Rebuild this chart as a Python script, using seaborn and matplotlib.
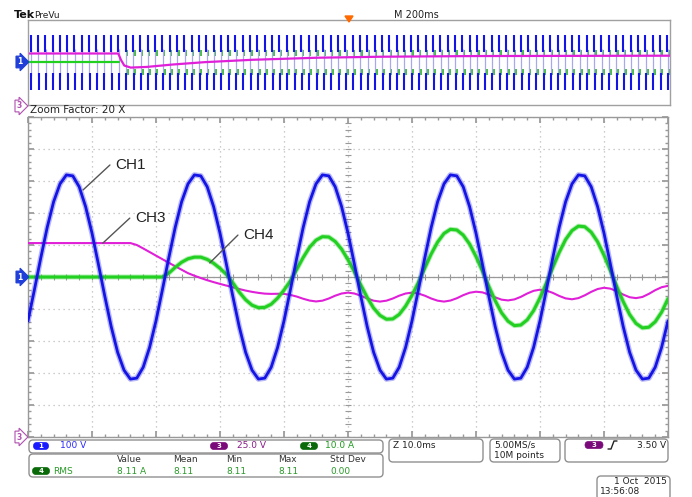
import numpy as np
import pandas as pd
import seaborn as sns
import matplotlib.pyplot as plt
from matplotlib.patches import FancyBboxPatch, Polygon
from matplotlib.ticker import MultipleLocator

# zoomed window (10 ms/div), values read every 1 ms
t_ms = list(range(0, 101))
ch1_volts = [-137, -40, 60, 155, 235, 291, 319, 316, 282, 220,
             137, 40, -60, -155, -235, -291, -319, -316, -282, -220,
             -137, -40, 60, 155, 235, 291, 319, 316, 282, 220,
             137, 40, -60, -155, -235, -291, -319, -316, -282, -220,
             -137, -40, 60, 155, 235, 291, 319, 316, 282, 220,
             137, 40, -60, -155, -235, -291, -319, -316, -282, -220,
             -137, -40, 60, 155, 235, 291, 319, 316, 282, 220,
             137, 40, -60, -155, -235, -291, -319, -316, -282, -220,
             -137, -40, 60, 155, 235, 291, 319, 316, 282, 220,
             137, 40, -60, -155, -235, -291, -319, -316, -282, -220,
             -137]
ch3_volts = [151.5, 151.5, 151.5, 151.5, 151.5, 151.5, 151.5, 151.5, 151.5, 151.5,
             151.5, 151.5, 151.5, 151.5, 151.5, 151.5, 151.5, 150.0, 147.3, 144.5,
             141.7, 138.9, 136.1, 133.4, 130.7, 128.0, 126.0, 124.2, 122.5, 121.0,
             119.6, 118.3, 117.0, 115.6, 114.4, 113.4, 112.6, 112.0, 111.8, 111.9,
             111.8, 111.0, 109.7, 108.0, 106.6, 105.9, 106.5, 108.2, 110.4, 112.1,
             112.8, 112.1, 110.4, 108.2, 106.5, 105.8, 106.5, 108.2, 110.4, 112.1,
             112.8, 112.1, 110.4, 108.2, 106.5, 105.8, 106.6, 108.4, 110.8, 112.7,
             113.5, 113.0, 111.3, 109.1, 107.3, 106.7, 107.5, 109.5, 112.1, 114.2,
             115.1, 114.4, 112.6, 110.2, 108.3, 107.6, 108.5, 110.7, 113.4, 115.6,
             116.6, 115.9, 113.9, 111.3, 109.2, 108.5, 109.4, 111.8, 114.7, 117.0,
             118.1]
ch4_amps = [0, 0, 0, 0, 0, 0, 0, 0, 0, 0,
            0, 0, 0, 0, 0, 0, 0, 0, 0, 0,
            0, 0, 1.2, 3.0, 4.6, 5.7, 6.2, 6.2, 5.5, 4.3,
            2.7, 0.8, -1.8, -4.7, -7.1, -8.8, -9.6, -9.5, -8.5, -6.6,
            -4.1, -1.2, 2.4, 6.1, 9.3, 11.5, 12.6, 12.5, 11.1, 8.7,
            5.4, 1.6, -2.5, -6.4, -9.7, -12.0, -13.2, -13.1, -11.7, -9.1,
            -5.7, -1.7, 2.8, 7.2, 10.9, 13.6, 14.9, 14.7, 13.1, 10.3,
            6.4, 1.9, -2.9, -7.4, -11.2, -13.8, -15.2, -15.0, -13.4, -10.5,
            -6.5, -1.9, 3.0, 7.7, 11.7, 14.5, 15.9, 15.7, 14.0, 11.0,
            6.8, 2.0, -3.0, -7.7, -11.7, -14.5, -15.9, -15.7, -14.0, -11.0,
            -6.8]

# PreVu strip (200 ms/div)
prev_ch3_t = [0, 281, 290, 300, 320, 370, 450, 550, 700, 900, 1100, 1400, 2000]
prev_ch3_volts = [151.5, 151.5, 132, 116, 110, 112, 119, 126, 133, 139, 142, 144, 145]
prev_ch1_peak = 322
prev_ch4_peak = 15
prev_step_t = 285

# vertical settings per channel
ch1_scale, ch3_scale, ch4_scale = 100, 25, 10
ch3_offset = -5

meas_headers = ['Value', 'Mean', 'Min', 'Max', 'Std Dev']
meas_values = ['8.11 A', '8.11', '8.11', '8.11', '0.00']

BLUE, MAG, GREEN = '#1414e6', '#e020d8', '#22d022'

sns.set_theme(style='white')
plt.rcParams['font.family'] = ['DejaVu Sans']

W, H = 692, 497
fig = plt.figure(figsize=(W / 100, H / 100), dpi=100)


def box(x0, y0, x1, y1):
    return [x0 / W, 1 - y1 / H, (x1 - x0) / W, (y1 - y0) / H]


df = pd.DataFrame({'t': t_ms,
                   'ch1': np.array(ch1_volts) / ch1_scale,
                   'ch3': np.array(ch3_volts) / ch3_scale + ch3_offset,
                   'ch4': np.array(ch4_amps) / ch4_scale})

# ---- main zoom window
ax = fig.add_axes(box(28, 117, 668, 437))
ax.set_xlim(0, 100)
ax.set_ylim(-5, 5)
ax.xaxis.set_major_locator(MultipleLocator(10))
ax.yaxis.set_major_locator(MultipleLocator(1))
ax.xaxis.set_minor_locator(MultipleLocator(2))
ax.yaxis.set_minor_locator(MultipleLocator(0.2))
ax.tick_params(which='both', direction='in', top=True, right=True, bottom=True, left=True,
               labelbottom=False, labelleft=False, color='#999999')
ax.tick_params(which='major', length=4)
ax.tick_params(which='minor', length=2.5)
ax.grid(True, which='major', color='#bcbcbc', ls=(0, (1, 3)), lw=0.9)
for s in ax.spines.values():
    s.set_color('#999999')
    s.set_linewidth(1)
ax.axhline(0, color='#999999', lw=0.9, zorder=1)
ax.plot(np.arange(0, 100.1, 2), np.zeros(51), ls='none', marker='|', ms=4, color='#999999', mew=0.8)
ax.plot(np.full(51, 50), np.arange(-5, 5.01, 0.2), ls='none', marker='_', ms=4, color='#999999', mew=0.8)

sns.lineplot(data=df, x='t', y='ch3', ax=ax, color=MAG, lw=1.5, zorder=3)
sns.lineplot(data=df, x='t', y='ch4', ax=ax, color=GREEN, lw=3.6, alpha=0.35, zorder=4)
sns.lineplot(data=df, x='t', y='ch4', ax=ax, color=GREEN, lw=2.2, zorder=4)
sns.lineplot(data=df, x='t', y='ch1', ax=ax, color=BLUE, lw=4.0, alpha=0.3, zorder=5)
sns.lineplot(data=df, x='t', y='ch1', ax=ax, color=BLUE, lw=2.0, zorder=5)
ax.set_xlabel('')
ax.set_ylabel('')

# callouts
for (x0, y0, x1, y1, lab) in [(8.6, 2.72, 12.8, 3.5, 'CH1'),
                              (11.7, 1.06, 15.9, 1.84, 'CH3'),
                              (28.4, 0.44, 32.8, 1.31, 'CH4')]:
    ax.plot([x0, x1], [y0, y1], color='#555555', lw=1, zorder=6)
    ax.text(x1 + 0.8, y1, lab, fontsize=11, family='Liberation Sans', va='center', ha='left', color='#222222')

# ---- PreVu strip
axp = fig.add_axes(box(28, 20, 670, 105))
axp.set_xlim(0, 2000)
axp.set_ylim(-5, 5)
axp.set_xticks([])
axp.set_yticks([])
for s in axp.spines.values():
    s.set_color('#a0a0a0')
    s.set_linewidth(1)
stroke_t = np.arange(8, 2000, 22.8)
late = stroke_t[stroke_t > prev_step_t]
g = prev_ch4_peak / ch4_scale
axp.vlines(late + 5, 0.5 * g, g, color='#28b028', lw=1.2)
axp.vlines(late + 7, -g, -0.5 * g, color='#28b028', lw=1.2)
b = prev_ch1_peak / ch1_scale
axp.vlines(stroke_t + 1, -0.5 * b, 0.5 * b, color='#a8a8ee', lw=0.9)
axp.vlines(stroke_t, 0.4 * b, b, color=BLUE, lw=1.5)
axp.vlines(stroke_t + 2, -b, -0.4 * b, color=BLUE, lw=1.5)
axp.plot([0, prev_step_t], [0, 0], color=GREEN, lw=1.6)
pv = pd.DataFrame({'t': prev_ch3_t, 'v': np.array(prev_ch3_volts) / ch3_scale + ch3_offset})
sns.lineplot(data=pv, x='t', y='v', ax=axp, color=MAG, lw=1.6)
axp.set_xlabel('')
axp.set_ylabel('')

# ---- overlay in pixel coordinates for the readouts
ov = fig.add_axes([0, 0, 1, 1], zorder=10)
ov.set_xlim(0, W)
ov.set_ylim(H, 0)
ov.axis('off')
ov.patch.set_alpha(0)

ov.text(14, 15, 'Tek', fontsize=8, weight='bold', va='center', color='#111111')
ov.text(34, 15, 'PreVu', fontsize=6.5, va='center', color='#222222')
ov.text(394, 15, 'M 200ms', fontsize=7, va='center', color='#222222')
ov.text(30, 110, 'Zoom Factor: 20 X', fontsize=7.5, va='center', color='#222222')
ov.add_patch(Polygon([[345, 16], [353, 16], [349, 22]], closed=True, color='#ff6a00'))


def marker(x, y, num, fc, ec=None, tc='white'):
    ov.text(x, y, num, fontsize=5.5, ha='center', va='center', color=tc, weight='bold',
            bbox=dict(boxstyle='rarrow,pad=0.18', fc=fc, ec=ec or fc, lw=0.8))


def pill(xc, yc, num, fc, w=15, h=7):
    ov.add_patch(FancyBboxPatch((xc - w / 2, yc - h / 2), w, h,
                                boxstyle='round,pad=0,rounding_size=3.5', fc=fc, ec=fc, lw=0.5))
    ov.text(xc, yc + 0.3, num, fontsize=5, ha='center', va='center', color='white', weight='bold')


marker(20, 62, '1', '#1f3fd8')
marker(20, 277, '1', '#1f3fd8')
marker(19, 106, '3', 'white', ec='#b050b0', tc='#b050b0')
marker(19, 437, '3', 'white', ec='#b050b0', tc='#b050b0')


def rbox(x0, y0, x1, y1):
    ov.add_patch(FancyBboxPatch((x0, y0), x1 - x0, y1 - y0, boxstyle='round,pad=0,rounding_size=4',
                                fc='white', ec='#909090', lw=1))


rbox(29, 440, 383, 453)
rbox(29, 454, 383, 477)
rbox(389, 439, 483, 462)
rbox(490, 439, 560, 462)
rbox(565, 439, 668, 462)
rbox(597, 476, 670, 500)

fs = 6.5
pill(41, 446, '1', '#1a1aff')
ov.text(60, 446, '100 V', fontsize=fs, va='center', color='#2a2aff')
pill(219, 446, '3', '#7a0a7a', w=17)
ov.text(237, 446, '25.0 V', fontsize=fs, va='center', color='#8a1a8a')
pill(309, 446, '4', '#0a6a0a', w=17)
ov.text(325, 446, '10.0 A', fontsize=fs, va='center', color='#1e9a1e')

for x, h in zip([117, 173, 226, 278, 330], meas_headers):
    ov.text(x, 460, h, fontsize=fs, va='center', color='#333333')
for x, v in zip([117, 173, 226, 278, 330], meas_values):
    ov.text(x, 471, v, fontsize=fs, va='center', color='#2a9a2a')
pill(41, 471, '4', '#0a6a0a', w=17)
ov.text(53, 471, 'RMS', fontsize=fs, va='center', color='#2a9a2a')

ov.text(393, 445, 'Z 10.0ms', fontsize=fs, va='center', color='#222222')
ov.text(494, 445, '5.00MS/s', fontsize=fs, va='center', color='#222222')
ov.text(494, 455, '10M points', fontsize=fs, va='center', color='#222222')
pill(594, 445, '3', '#7a0a7a', w=18)
ov.plot([608, 611, 614, 617], [449, 449, 441, 441], color='#222222', lw=1)
ov.text(666, 445, '3.50 V', fontsize=fs, va='center', ha='right', color='#222222')
ov.text(667, 482, '1 Oct  2015', fontsize=fs, va='center', ha='right', color='#222222')
ov.text(600, 492, '13:56:08', fontsize=fs, va='center', ha='left', color='#222222')

fig.savefig('out.png', dpi=100, facecolor='white')
